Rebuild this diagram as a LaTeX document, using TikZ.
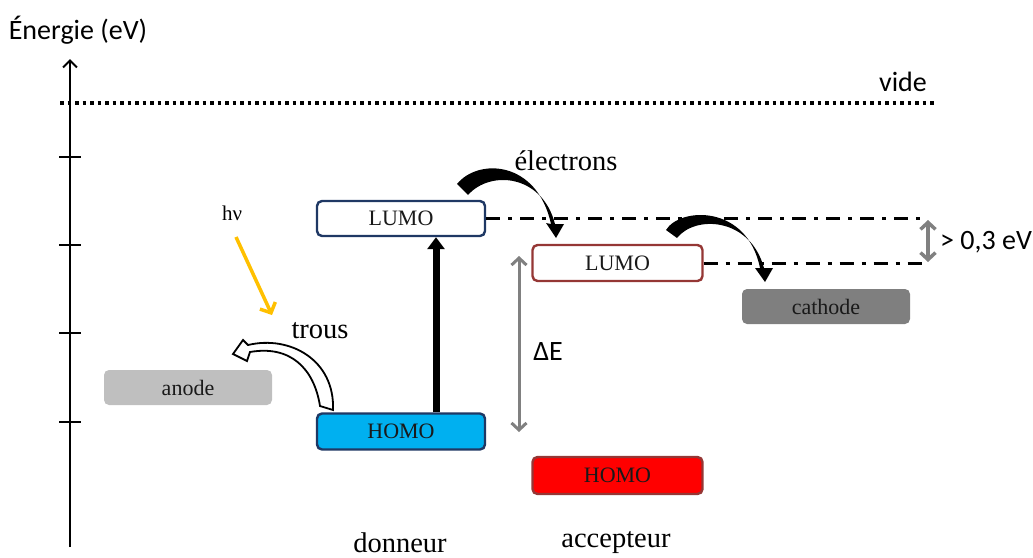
\documentclass[tikz,border=0pt]{standalone}
\usepackage{fontspec}
\setmainfont{Liberation Serif}
\newfontfamily\calib{Carlito}
\usetikzlibrary{arrows.meta}
\definecolor{donb}{RGB}{31,56,100}
\definecolor{accb}{RGB}{149,55,53}
\definecolor{donfill}{RGB}{0,176,240}
\definecolor{accfill}{RGB}{255,0,0}
\definecolor{cathfill}{RGB}{127,127,127}
\definecolor{anofill}{RGB}{191,191,191}
\definecolor{grayarr}{RGB}{128,128,128}
\definecolor{sun}{RGB}{255,192,0}
\definecolor{txt}{RGB}{25,25,25}
\tikzset{
  level/.style={rounded corners=5pt, line width=2.4pt, minimum width=168pt, minimum height=35pt, inner sep=0pt, text=txt, font=\fontsize{22}{24}\selectfont},
  dlev/.style={level, draw=donb},
  alev/.style={level, draw=accb, minimum width=170pt},
  elec/.style={level, draw=none, minimum height=35pt},
  sanslab/.style={font=\calib\fontsize{28}{30}\selectfont, text=black, inner sep=0pt},
  seriflab/.style={font=\fontsize{28.5}{31}\selectfont, text=black, inner sep=0pt},
  dashdot/.style={line width=3pt, dash pattern=on 14pt off 8pt on 4pt off 8pt},
  grayarrow/.style={draw=grayarr, line width=3pt, {Straight Barb[length=7pt,width=15pt]}-{Straight Barb[length=7pt,width=15pt]}},
}
\begin{document}
\begin{tikzpicture}[x=1pt,y=-1pt]
\useasboundingbox (0,0) rectangle (1033,557);
% axis
\coordinate (axb) at (70,547);
\coordinate (axt) at (70,59);
\draw[line width=2pt, -{Straight Barb[length=7pt,width=14pt]}] (axb) -- (axt);
\foreach \y in {157,245,333,422} \draw[line width=2pt] (59,\y) -- (81,\y);
\node[sanslab] (ener) at (78,30) {Énergie (eV)};
% vacuum
\coordinate (v1) at (60,103);
\coordinate (v2) at (935,103);
\draw[line width=3.5pt, dash pattern=on 3.5pt off 4pt] (v1) -- (v2);
\node[sanslab] (vide) at (903,82) {vide};
% levels
\node[dlev, fill=white] (dlumo) at (401,218.5) {LUMO};
\node[dlev, fill=donfill, minimum height=36pt] (dhomo) at (401,431.5) {HOMO};
\node[alev, fill=white, minimum height=36pt] (alumo) at (617.5,263) {LUMO};
\node[alev, fill=accfill, minimum height=37pt] (ahomo) at (617.5,475.5) {HOMO};
\node[elec, fill=cathfill] (cath) at (826,306.5) {cathode};
\node[elec, fill=anofill] (anode) at (188,387.5) {anode};
% dash-dot lines
\coordinate (e1) at (928,218.5);
\coordinate (e2) at (925,263);
\draw[dashdot] (dlumo.east) -- (e1);
\draw[dashdot] (alumo.east) -- (e2);
\coordinate (g1) at (928,220);
\coordinate (g2) at (928,262);
\draw[grayarrow, line width=3.5pt] (g1) -- (g2);
\node[sanslab, anchor=west] (gap) at (940,242) {> 0,3 eV};
% Delta E
\coordinate (dE1) at (519,256);
\coordinate (dE2) at (519,432);
\draw[grayarrow] (dE2) -- (dE1);
\node[sanslab] (dE) at (548,352) {ΔE};
% excitation
\draw[line width=7pt, -{Triangle[length=12pt,width=17pt]}] ([xshift=35pt]dhomo.north) -- ([xshift=35pt]dlumo.south);
% photon
\node[font=\fontsize{21}{23}\selectfont, inner sep=0pt] (hv) at (232,213) {hν};
\coordinate (s1) at (236,237);
\coordinate (s2) at (272,315);
\draw[draw=sun, line width=3.5pt, -{Straight Barb[length=8pt,width=17pt]}] (s1) -- (s2);
% labels
\node[seriflab] (elab) at (566,161) {électrons};
\node[seriflab] (tlab) at (320,331) {trous};
\node[seriflab] (don) at (400,543) {donneur};
\node[seriflab] (acc) at (616,543) {accepteur};
% electron curved arrow (donor LUMO -> acceptor LUMO)
\fill (457,184) .. controls (478,158) and (537,160) .. (551,224) -- (546,223) -- (556,238) -- (564,224) -- (555,224) .. controls (542,174) and (490,170) .. (468,195) -- cycle;
% electron curved arrow (acceptor LUMO -> cathode)
\fill (666,230) .. controls (680,207) and (747,204) .. (760,268) -- (755,268) -- (765,282) -- (773,268) -- (764,268) .. controls (750,217) and (695,215) .. (677,238) -- cycle;
% hole curved arrow (donor HOMO -> anode)
\filldraw[fill=white, draw=black, line width=1.8pt, line join=miter] (320,406) .. controls (314,368) and (290,345) .. (250,352) -- (247,361) -- (233,354) -- (243,340) -- (248,345) .. controls (290,335) and (335,360) .. (333,410) -- cycle;
\end{tikzpicture}
\end{document}
